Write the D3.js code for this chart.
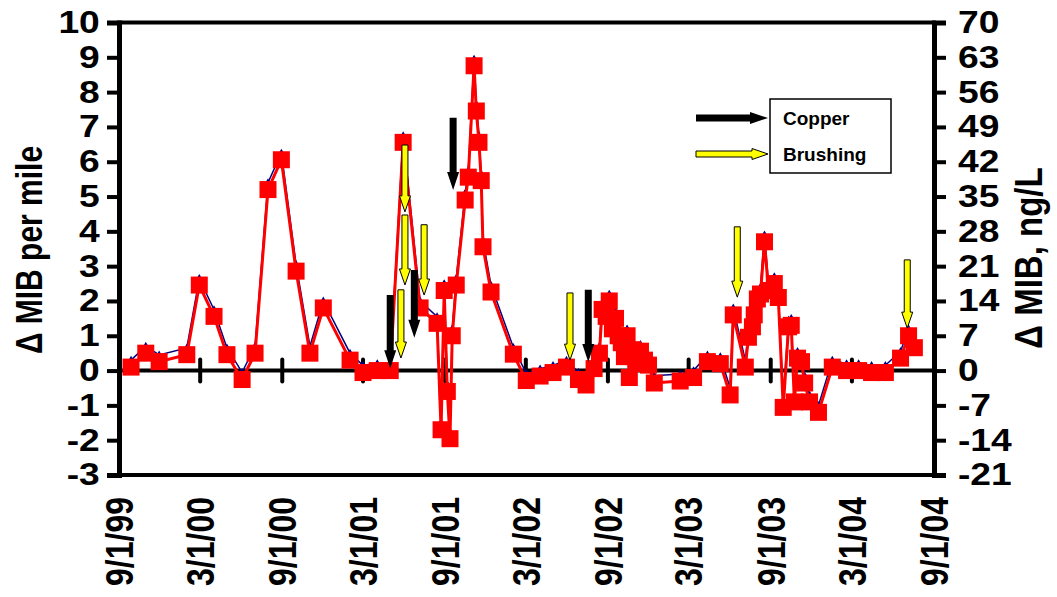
<!DOCTYPE html>
<html>
<head>
<meta charset="utf-8">
<script src="https://cdn.jsdelivr.net/npm/d3@7"></script>
<style>
  html, body { margin: 0; padding: 0; background: #fff; }
  svg { display: block; }
  text { font-family: "Liberation Sans", Arial, sans-serif; font-weight: bold; fill: #000; }
</style>
</head>
<body>
<svg id="chart" width="1057" height="597"></svg>
<script>
// Sampling dates
const sampleDates = [
  "1999-09-28","1999-10-31","1999-11-30","2000-01-31","2000-02-28","2000-04-01","2000-04-30","2000-06-03",
  "2000-07-02","2000-07-31","2000-08-30","2000-10-02","2000-11-02","2000-12-02","2001-01-31","2001-03-01",
  "2001-04-02","2001-05-01","2001-05-30","2001-07-07","2001-08-14","2001-08-23","2001-08-30","2001-09-06",
  "2001-09-12","2001-09-17","2001-09-26","2001-10-16","2001-10-23","2001-11-05","2001-11-10","2001-11-16",
  "2001-11-21","2001-11-25","2001-12-13","2002-02-01","2002-03-02","2002-04-02","2002-05-01","2002-05-31",
  "2002-06-27","2002-07-14","2002-08-01","2002-08-13","2002-08-19","2002-08-28","2002-09-04","2002-09-11",
  "2002-09-18","2002-09-24","2002-10-01","2002-10-08","2002-10-14","2002-10-19","2002-10-26","2002-11-04",
  "2002-11-13","2002-11-22","2002-12-01","2002-12-14","2003-02-10","2003-03-12","2003-04-12","2003-05-11",
  "2003-06-02","2003-06-09","2003-07-06","2003-07-13","2003-07-22","2003-07-26","2003-08-02","2003-08-09",
  "2003-08-18","2003-08-27","2003-09-09","2003-09-18","2003-09-29","2003-10-11","2003-10-17","2003-10-24",
  "2003-10-31","2003-11-09","2003-11-16","2003-11-27","2003-12-17","2004-01-17","2004-02-18","2004-03-16",
  "2004-04-14","2004-05-15","2004-06-18","2004-07-06","2004-07-19"
];

// Change in MIB per mile of canal (left axis)
const mibPerMile = [
  0.30, 0.70, 0.45, 0.65, 2.65, 1.75, 0.65, -0.05,
  0.70, 5.40, 6.25, 3.05, 0.70, 2.00, 0.50, 0.15,
  0.20, 0.20, 6.75, 2.00, 1.55, -1.50, 2.50, -0.40,
  -1.75, 1.20, 2.65, 5.10, 5.75, 8.95, 7.65, 6.75,
  5.65, 3.75, 2.45, 0.67, -0.08, 0.05, 0.15, 0.30,
  -0.05, -0.22, 0.25, 0.70, 1.95, 1.75, 2.20, 1.40,
  1.70, 1.20, 1.00, 0.60, 1.20, 0.00, 0.80, 0.40,
  0.75, 0.50, 0.35, -0.15, -0.10, 0.00, 0.45, 0.40,
  -0.50, 1.80, 0.30, 1.15, 1.45, 1.80, 2.25, 2.40,
  3.90, 2.50, 2.70, 2.30, -0.85, 1.45, 1.50, -0.70,
  0.55, 0.45, -0.15, -0.70, -1.00, 0.30, 0.20, 0.20,
  0.15, 0.15, 0.55, 1.20, 0.85
];

// Change in MIB concentration, ng/L (right axis)
const mibNgL = [
  0.7, 3.5, 1.8, 3.2, 17.2, 10.9, 3.2, -1.8,
  3.5, 36.4, 42.4, 20.0, 3.5, 12.6, 2.1, -0.4,
  0.0, 0.0, 45.9, 12.6, 9.5, -11.9, 16.1, -4.2,
  -13.7, 7.0, 17.2, 34.3, 38.9, 61.3, 52.2, 45.9,
  38.2, 24.9, 15.8, 3.3, -2.0, -1.1, -0.4, 0.7,
  -1.8, -2.9, 0.4, 3.5, 12.3, 10.9, 14.0, 8.4,
  10.5, 7.0, 5.6, 2.8, 7.0, -1.4, 4.2, 1.4,
  3.9, 2.1, 1.1, -2.5, -2.1, -1.4, 1.8, 1.4,
  -4.9, 11.2, 0.7, 6.7, 8.8, 11.2, 14.4, 15.4,
  25.9, 16.1, 17.5, 14.7, -7.4, 8.8, 9.1, -6.3,
  2.5, 1.8, -2.5, -6.3, -8.4, 0.7, 0.0, 0.0,
  -0.4, -0.4, 2.5, 7.0, 4.6
];

// Treatment events: date, arrow top and tip on the per-mile scale
const copperEvents = [
  ["2001-05-01", 2.17, 0.07],
  ["2001-06-24", 2.89, 0.94],
  ["2001-09-19", 7.26, 5.19],
  ["2002-07-19", 2.32, 0.25]
];
const brushingEvents = [
  ["2001-06-03", 6.48, 4.56],
  ["2001-06-03", 4.47, 2.46],
  ["2001-05-25", 2.32, 0.36],
  ["2001-07-16", 4.19, 2.17],
  ["2002-06-08", 2.23, 0.30],
  ["2003-06-18", 4.13, 2.11],
  ["2004-07-03", 3.18, 1.22]
];

const xTickLabels = ["9/1/99","3/1/00","9/1/00","3/1/01","9/1/01","3/1/02","9/1/02","3/1/03","9/1/03","3/1/04","9/1/04"];
const leftTicks = [-3,-2,-1,0,1,2,3,4,5,6,7,8,9,10];
const rightTicks = [-21,-14,-7,0,7,14,21,28,35,42,49,56,63,70];

const parseISO = d3.timeParse("%Y-%m-%d");
const parseTick = d3.timeParse("%m/%d/%y");
const tickDates = xTickLabels.map(parseTick);

const plotLeft = 119, plotRight = 934, plotTop = 22.5, plotBottom = 475;

const x = d3.scaleTime()
  .domain([tickDates[0], tickDates[tickDates.length - 1]])
  .range([plotLeft, plotRight]);
const yL = d3.scaleLinear().domain([-3, 10]).range([plotBottom, plotTop]);
const yR = d3.scaleLinear().domain([-21, 70]).range([plotBottom, plotTop]);

const svg = d3.select("#chart");
const stretch = 1.2;
const plainNumber = d => String(d);

// Frame: top and bottom borders
svg.append("line").attr("x1", plotLeft - 2).attr("x2", plotRight + 2)
  .attr("y1", plotTop).attr("y2", plotTop).attr("stroke", "#000").attr("stroke-width", 4);
svg.append("line").attr("x1", plotLeft - 2).attr("x2", plotRight + 2)
  .attr("y1", plotBottom).attr("y2", plotBottom).attr("stroke", "#000").attr("stroke-width", 4);

// Left axis
const gL = svg.append("g").attr("transform", `translate(${plotLeft},0)`)
  .call(d3.axisLeft(yL).tickValues(leftTicks).tickSize(12).tickPadding(4).tickFormat(plainNumber));
gL.select(".domain").attr("stroke-width", 5);
gL.selectAll(".tick line").attr("stroke-width", 4);
gL.selectAll(".tick text")
  .attr("font-size", 31).attr("font-family", null).attr("fill", "#000")
  .attr("transform", `scale(${stretch},1)`);

// Right axis
const gR = svg.append("g").attr("transform", `translate(${plotRight},0)`)
  .call(d3.axisRight(yR).tickValues(rightTicks).tickSize(12).tickPadding(8).tickFormat(plainNumber));
gR.select(".domain").attr("stroke-width", 5);
gR.selectAll(".tick line").attr("stroke-width", 4);
gR.selectAll(".tick text")
  .attr("font-size", 31).attr("font-family", null).attr("fill", "#000")
  .attr("transform", `scale(${stretch},1)`);

// Zero line with crossing date ticks
const y0 = yL(0);
svg.append("line").attr("x1", plotLeft).attr("x2", plotRight)
  .attr("y1", y0).attr("y2", y0).attr("stroke", "#000").attr("stroke-width", 4);
svg.append("g").selectAll("line").data(tickDates.slice(1, -1)).join("line")
  .attr("x1", d => x(d)).attr("x2", d => x(d))
  .attr("y1", y0 - 11).attr("y2", y0 + 11)
  .attr("stroke", "#000").attr("stroke-width", 4).attr("stroke-linecap", "round");

// Date labels below the plot
svg.append("g").selectAll("text").data(xTickLabels).join("text")
  .attr("transform", (d, i) => `translate(${x(tickDates[i])},497) scale(${stretch},1) rotate(-90)`)
  .attr("text-anchor", "end").attr("dy", "0.36em").attr("font-size", 32)
  .text(d => d);

// Axis titles
svg.append("text")
  .attr("transform", `translate(42,250) scale(${stretch},1) rotate(-90)`)
  .attr("text-anchor", "middle").attr("font-size", 30)
  .text("\u0394 MIB per mile");
svg.append("text")
  .attr("transform", `translate(1042,258) scale(${stretch},1) rotate(-90)`)
  .attr("text-anchor", "middle").attr("font-size", 33)
  .text("\u0394 MIB, ng/L");

const blueData = sampleDates.map((d, i) => ({ date: parseISO(d), v: mibPerMile[i] }));
const redData = sampleDates.map((d, i) => ({ date: parseISO(d), v: mibNgL[i] }));

// Per-mile series (navy line, small diamonds)
svg.append("path").datum(blueData)
  .attr("fill", "none").attr("stroke", "#000080").attr("stroke-width", 1.5)
  .attr("d", d3.line().x(d => x(d.date)).y(d => yL(d.v)));
svg.append("g").selectAll("path").data(blueData).join("path")
  .attr("transform", d => `translate(${x(d.date)},${yL(d.v)})`)
  .attr("d", d3.symbol(d3.symbolDiamond, 22))
  .attr("fill", "#000080");

// Concentration series (red line, squares)
svg.append("path").datum(redData)
  .attr("fill", "none").attr("stroke", "#ff0000").attr("stroke-width", 3)
  .attr("d", d3.line().x(d => x(d.date)).y(d => yR(d.v)));
const sq = 17;
svg.append("g").selectAll("rect").data(redData).join("rect")
  .attr("x", d => x(d.date) - sq / 2).attr("y", d => yR(d.v) - sq / 2)
  .attr("width", sq).attr("height", sq).attr("fill", "#ff0000");

// Arrow polygons
function downArrow(cx, yTop, yTip, shaftW, headW, headL) {
  const yb = yTip - headL;
  return [[cx - shaftW / 2, yTop], [cx + shaftW / 2, yTop], [cx + shaftW / 2, yb], [cx + headW / 2, yb],
    [cx, yTip], [cx - headW / 2, yb], [cx - shaftW / 2, yb]].map(p => p.join(",")).join(" ");
}
function rightArrow(x1, x2, cy, shaftW, headW, headL) {
  const xb = x2 - headL;
  return [[x1, cy - shaftW / 2], [xb, cy - shaftW / 2], [xb, cy - headW / 2], [x2, cy],
    [xb, cy + headW / 2], [xb, cy + shaftW / 2], [x1, cy + shaftW / 2]].map(p => p.join(",")).join(" ");
}

svg.append("g").selectAll("polygon").data(copperEvents).join("polygon")
  .attr("points", d => downArrow(x(parseISO(d[0])), yL(d[1]), yL(d[2]), 7, 12, 18))
  .attr("fill", "#000");
svg.append("g").selectAll("polygon").data(brushingEvents).join("polygon")
  .attr("points", d => downArrow(x(parseISO(d[0])), yL(d[1]), yL(d[2]), 6, 11, 16))
  .attr("fill", "#ffff00").attr("stroke", "#000").attr("stroke-width", 1);

// Legend
svg.append("rect").attr("x", 770).attr("y", 99).attr("width", 121).attr("height", 74)
  .attr("fill", "#fff").attr("stroke", "#000").attr("stroke-width", 1.5);
svg.append("polygon").attr("points", rightArrow(696, 768, 118, 7, 12, 18)).attr("fill", "#000");
svg.append("polygon").attr("points", rightArrow(696, 768, 154, 6, 11, 16))
  .attr("fill", "#ffff00").attr("stroke", "#000").attr("stroke-width", 1);
svg.append("text").attr("x", 783).attr("y", 125).attr("font-size", 19).text("Copper");
svg.append("text").attr("x", 783).attr("y", 161).attr("font-size", 19).text("Brushing");
</script>
</body>
</html>
